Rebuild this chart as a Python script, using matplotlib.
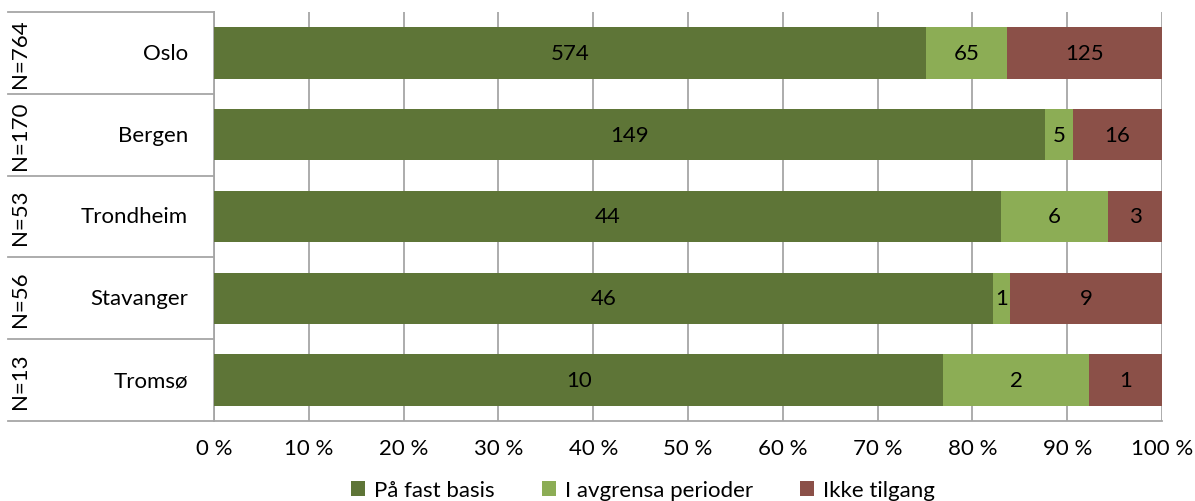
import matplotlib
matplotlib.use("Agg")
import matplotlib.pyplot as plt
import matplotlib.transforms as mtransforms
from matplotlib.ticker import FuncFormatter, MultipleLocator
import numpy as np

plt.rcParams['font.family'] = ['Lato', 'DejaVu Sans']

cities = ["Oslo", "Bergen", "Trondheim", "Stavanger", "Tromsø"]
n_labels = ["N=764", "N=170", "N=53", "N=56", "N=13"]
series_names = ["På fast basis", "I avgrensa perioder", "Ikke tilgang"]
fast = [574, 149, 44, 46, 10]
avgrensa = [65, 5, 6, 1, 2]
ikke = [125, 16, 3, 9, 1]
colors = ["#5e7537", "#8cad55", "#8b5048"]

W, H = 1195, 502
fig = plt.figure(figsize=(W / 100, H / 100), dpi=100)
left, right, top, bottom = 214, 1162, 13, 422
ax = fig.add_axes([left / W, 1 - bottom / H, (right - left) / W, (bottom - top) / H])

FS = 16
data = np.array([fast, avgrensa, ikke], dtype=float)
totals = data.sum(axis=0)
pct = data / totals * 100
y = np.arange(len(cities))
cum = np.zeros(len(cities))
for i in range(3):
    ax.barh(y, pct[i], left=cum, height=0.63, color=colors[i], label=series_names[i], zorder=3)
    for j in range(len(cities)):
        ax.text(cum[j] + pct[i][j] / 2, y[j], f"{int(data[i][j])}",
                ha="center", va="center", fontsize=FS, color="black", zorder=4)
    cum += pct[i]

ax.set_xlim(0, 100)
ax.set_ylim(len(cities) - 0.5, -0.5)
ax.xaxis.set_major_locator(MultipleLocator(10))
ax.xaxis.set_major_formatter(FuncFormatter(lambda v, p: f"{int(round(v))} %"))
ax.grid(axis="x", color="#a6a6a6", linewidth=1.3, zorder=0)
ax.set_yticks([])
ax.tick_params(axis="x", length=0, pad=12, labelsize=FS)
for s in ["top", "right"]:
    ax.spines[s].set_visible(False)
for s in ["left", "bottom"]:
    ax.spines[s].set_color("#a6a6a6")
    ax.spines[s].set_linewidth(1.3)

trans = mtransforms.blended_transform_factory(ax.transAxes, ax.transData)
x0 = (8 - left) / (right - left)
for k in range(len(cities) + 1):
    ax.plot([x0, 0], [k - 0.5, k - 0.5], transform=trans, color="#a6a6a6",
            linewidth=1.3, clip_on=False, zorder=5)
xc = (188 - left) / (right - left)
xn = (20 - left) / (right - left)
for j in range(len(cities)):
    ax.text(xc, y[j], cities[j], transform=trans, ha="right", va="center", fontsize=FS)
    ax.text(xn, y[j], n_labels[j], transform=trans, ha="center", va="center",
            rotation=90, fontsize=FS)

fig.legend(loc="center", bbox_to_anchor=(643 / W, 1 - 491 / H), ncol=3, frameon=False,
           fontsize=FS, handlelength=0.65, handleheight=0.65, handletextpad=0.4,
           columnspacing=2.1, borderaxespad=0)

fig.savefig("out.png", dpi=100)
